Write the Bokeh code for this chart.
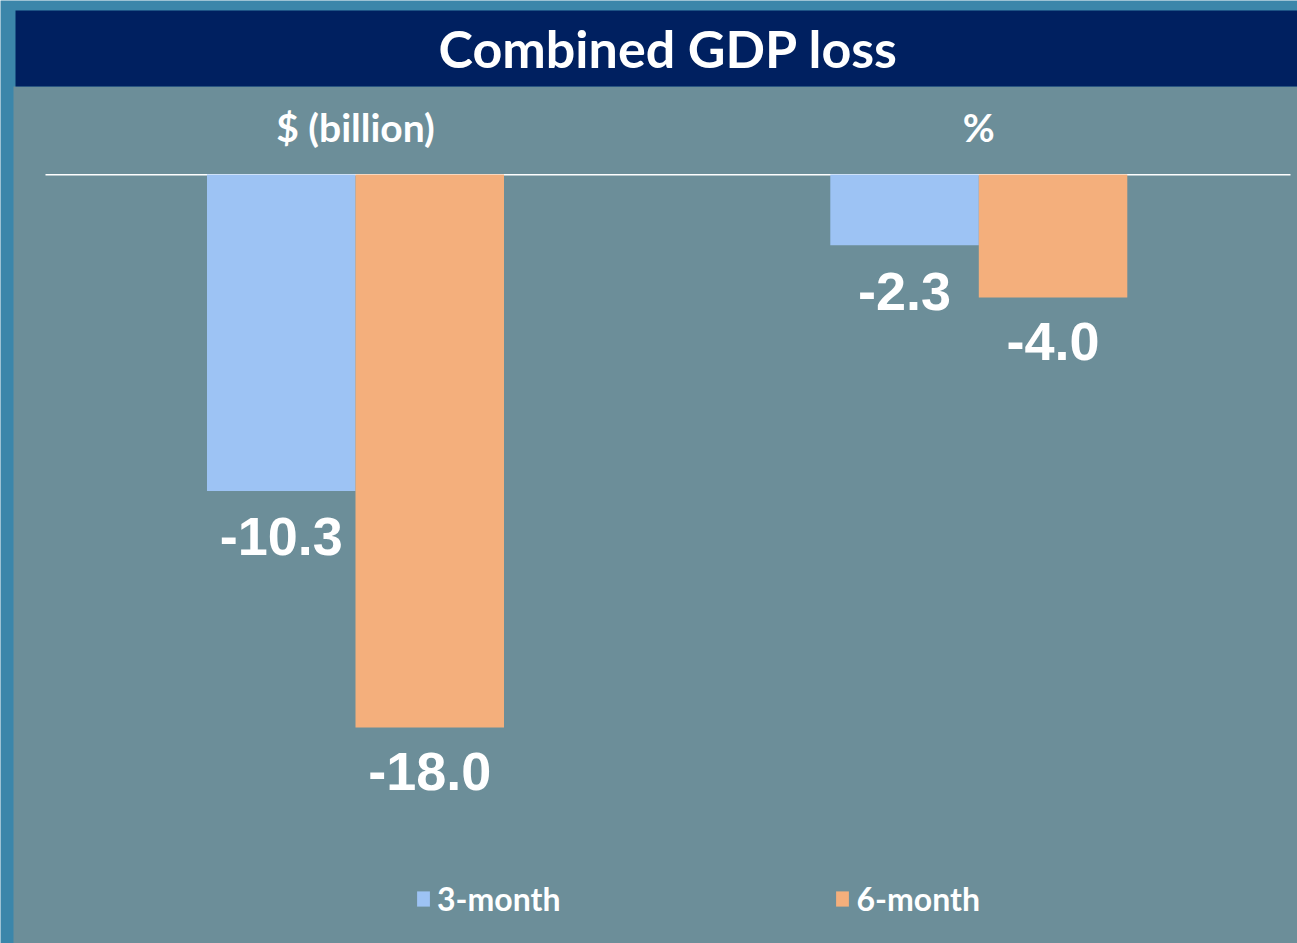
from bokeh.plotting import figure
from bokeh.models import Range1d, BoxAnnotation, Label, Legend, LegendItem, ColumnDataSource
from bokeh.transform import dodge
from bokeh.core.properties import value
from bokeh.embed import file_html
from bokeh.resources import INLINE

# ---- data ----
title = "Combined GDP loss"
groups = ["$ (billion)", "%"]
series = ["3-month", "6-month"]
three_month = [-10.3, -2.3]
six_month = [-18.0, -4.0]
labels_3 = ["-10.3", "-2.3"]
labels_6 = ["-18.0", "-4.0"]
colors = ["#9dc3f4", "#f4af7c"]

# ---- layout ----
W, H = 1297, 943
PX_PER_X = 623.3
X0_PX = 355.0
x_start = -X0_PX / PX_PER_X
x_end = x_start + W / PX_PER_X
PX_PER_Y = 30.72
ZERO_PX = 174.0
y_end = ZERO_PX / PX_PER_Y
y_start = y_end - H / PX_PER_Y


def ypx(px):
    return y_end - px / PX_PER_Y


bar_w = 148.5 / PX_PER_X

src = ColumnDataSource(dict(
    g=list(range(len(groups))),
    name=groups,
    v3=three_month,
    v6=six_month,
    l3=labels_3,
    l6=labels_6,
    ylab=[ypx(126)] * len(groups),
))

p = figure(width=W, height=H, x_range=Range1d(x_start, x_end), y_range=Range1d(y_start, y_end),
           output_backend="svg", toolbar_location=None, min_border=0,
           x_axis_location=None, y_axis_location=None)
p.grid.visible = False
p.outline_line_color = None
p.background_fill_color = "#3b86aa"
p.border_fill_color = "#3b86aa"

# textured panel and title bar
p.add_layout(BoxAnnotation(left=13, left_units="screen", right=W, right_units="screen",
                           top=ypx(86), bottom=y_start, fill_color="#6c8e99", fill_alpha=1,
                           line_color=None, level="underlay"))
p.add_layout(BoxAnnotation(left=15, left_units="screen", right=W, right_units="screen",
                           top=ypx(10), bottom=ypx(86), fill_color="#002060", fill_alpha=1,
                           line_color=None, level="underlay"))

p.add_layout(Label(x=668, x_units="screen", y=ypx(47), text=title, text_align="center",
                   text_baseline="middle", text_color="white", text_font="Lato",
                   text_font_style="bold", text_font_size="52px"))

# zero line
p.add_layout(BoxAnnotation(left=45, left_units="screen", right=1290, right_units="screen",
                           top=0.5 / PX_PER_Y, bottom=-1.0 / PX_PER_Y, fill_color="white",
                           fill_alpha=1, line_color=None, level="underlay"))

r3 = p.vbar(x=dodge("g", -bar_w / 2, range=p.x_range), top="v3", bottom=0, width=bar_w,
            source=src, fill_color=colors[0], line_color=None)
r6 = p.vbar(x=dodge("g", bar_w / 2, range=p.x_range), top="v6", bottom=0, width=bar_w,
            source=src, fill_color=colors[1], line_color=None)

p.text(x="g", y="ylab", text="name", source=src, text_align="center", text_baseline="middle",
       text_color="white", text_font=value("Lato"), text_font_style="bold",
       text_font_size="39px")

p.text(x=dodge("g", -bar_w / 2, range=p.x_range), y="v3", text="l3", source=src,
       y_offset=46, text_align="center", text_baseline="middle", text_color="white",
       text_font=value("Liberation Sans"), text_font_style="bold", text_font_size="54px")
p.text(x=dodge("g", bar_w / 2, range=p.x_range), y="v6", text="l6", source=src,
       y_offset=44, text_align="center", text_baseline="middle", text_color="white",
       text_font=value("Liberation Sans"), text_font_style="bold", text_font_size="54px")

legend = Legend(items=[LegendItem(label=series[0], renderers=[r3]),
                       LegendItem(label=series[1], renderers=[r6])],
                orientation="horizontal", location=(415, 25), glyph_width=16, glyph_height=19,
                label_standoff=6, spacing=274, padding=0, margin=0, border_line_color=None,
                background_fill_alpha=0, label_text_color="white", label_text_font="Lato",
                label_text_font_style="bold", label_text_font_size="32px")
p.add_layout(legend)

open("out.html", "w").write(file_html(p, INLINE))
